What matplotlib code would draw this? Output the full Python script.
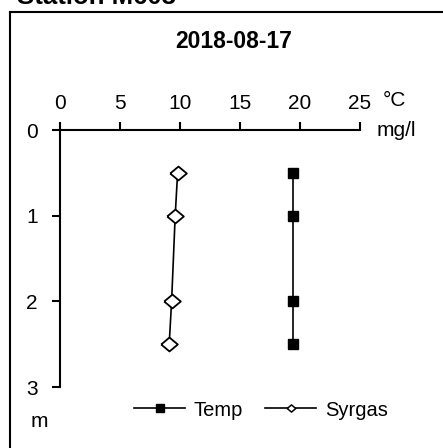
import matplotlib.pyplot as plt
from matplotlib.lines import Line2D

plt.rcParams['font.family'] = ['Liberation Sans', 'DejaVu Sans']

# depth profile 2018-08-17
depth = [0.5, 1.0, 2.0, 2.5]
temp = [19.4, 19.4, 19.4, 19.4]
syrgas = [9.8, 9.6, 9.3, 9.1]
xticks = [0, 5, 10, 15, 20, 25]
yticks = [0, 1, 2, 3]

W, H = 443, 448
fig = plt.figure(figsize=(W / 100, H / 100), dpi=100)

# outer frame (left + top)
fig.add_artist(Line2D([10 / W, 10 / W], [0, 1 - 12 / H], color='black', lw=1.5,
                      transform=fig.transFigure))
fig.add_artist(Line2D([10 / W, 1], [1 - 12 / H, 1 - 12 / H], color='black', lw=1.5,
                      transform=fig.transFigure))
fig.text(17 / W, 1 - 4 / H, 'Station M603', fontsize=18.5, fontweight='bold',
         ha='left', va='baseline')
fig.text(234 / W, 1 - 41 / H, '2018-08-17', fontsize=16.5, fontweight='bold',
         ha='center', va='center')

# slightly wide diamond like the original
diamond = [(-1.2, 0), (0, 1), (1.2, 0), (0, -1), (-1.2, 0)]

ax = fig.add_axes([60 / W, 1 - 387 / H, 300 / W, 257 / H])
ax.plot(temp, depth, color='black', lw=1.2, marker='s', ms=7,
        mfc='black', mec='black')
ax.plot(syrgas, depth, color='black', lw=1.2, marker=diamond, ms=12,
        mfc='white', mec='black', mew=1.3)

ax.set_xlim(0, 25)
ax.set_ylim(3, 0)
ax.set_xticks(xticks)
ax.set_yticks(yticks)
ax.xaxis.tick_top()
for s in ['right', 'bottom']:
    ax.spines[s].set_visible(False)
for s in ['top', 'left']:
    ax.spines[s].set_linewidth(1.5)
ax.tick_params(axis='both', direction='out', length=6, width=1.5,
               labelsize=15)
ax.tick_params(axis='x', pad=6)
ax.tick_params(axis='y', pad=10)
ax.patch.set_visible(False)

fig.text(383 / W, 1 - 100 / H, '°C', fontsize=15, ha='left', va='center')
fig.text(377 / W, 1 - 130 / H, 'mg/l', fontsize=15, ha='left', va='center')
fig.text(39 / W, 1 - 421 / H, 'm', fontsize=15, ha='center', va='center')

# legend markers are smaller than in the plot
handles = [
    Line2D([], [], color='black', lw=1.2, marker='s', ms=5.8,
           mfc='black', mec='black'),
    Line2D([], [], color='black', lw=1.2, marker=diamond, ms=6.2,
           mfc='white', mec='black', mew=1.1),
]
ax.legend(handles, ['Temp', 'Syrgas'], loc='center',
          bbox_to_anchor=(261 / W, 1 - 410 / H),
          bbox_transform=fig.transFigure, ncol=2, frameon=False,
          fontsize=14.5, handlelength=2.5, handletextpad=0.45, columnspacing=1.1,
          borderpad=0, borderaxespad=0)

fig.savefig('out.png', dpi=100)
